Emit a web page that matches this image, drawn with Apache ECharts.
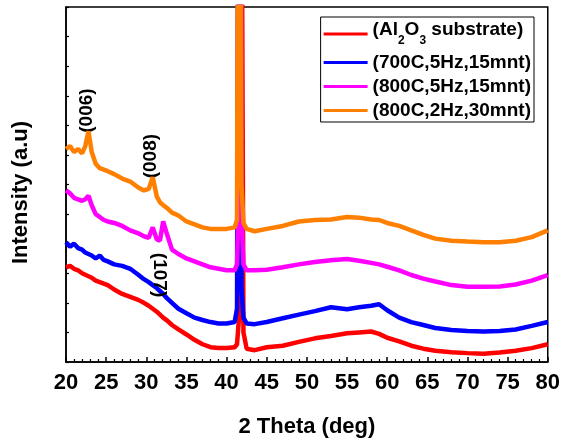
<!DOCTYPE html>
<html>
<head>
<meta charset="utf-8">
<script src="https://cdn.jsdelivr.net/npm/echarts@6/dist/echarts.min.js"></script>
<style>
  html, body { margin: 0; padding: 0; background: #fff; }
  #chart { width: 563px; height: 443px; }
</style>
</head>
<body>
<div id="chart"></div>
<script>
/* 2 theta values shared by all patterns */
let theta = [20, 20.5, 21, 21.5, 22, 22.4, 22.8, 23.2, 23.7, 24.2, 24.7, 25.2, 26, 27, 28, 29, 29.7, 30.3, 30.8, 31.3,
  31.7, 32.1, 32.6, 33.2, 34, 35, 36, 37, 38, 39, 40, 41, 41.3, 41.55, 41.7, 41.85, 42.1, 42.5, 43.5, 45,
  47, 49, 51, 53, 55, 56.5, 58, 59, 60, 61.5, 63, 64.5, 66, 68, 70, 72, 74, 76, 78, 80];

let names = ['Al2O3', '(700C,5Hz,15mnt)', '(800C,5Hz,15mnt)', '(800C,2Hz,30mnt)'];
let colors = ['#ff0000', '#0000ff', '#ff00ff', '#ff7f00'];

let substrate = [3.2, 3.25, 3.15, 3.1, 3.0, 2.95, 2.9, 2.85, 2.75, 2.7, 2.65, 2.6, 2.45, 2.3, 2.2, 2.1, 2.0, 1.9, 1.8, 1.7,
  1.6, 1.5, 1.4, 1.25, 1.1, 0.93, 0.75, 0.6, 0.5, 0.47, 0.47, 0.5, 0.6, 1.5, 30, 30, 1.0, 0.45, 0.4, 0.5,
  0.55, 0.68, 0.8, 0.88, 0.97, 1.0, 1.03, 0.95, 0.82, 0.7, 0.55, 0.45, 0.38, 0.33, 0.3, 0.28, 0.32, 0.38, 0.47, 0.6];

let s700_5_15 = [4.05, 3.9, 4.0, 3.85, 3.8, 3.7, 3.65, 3.6, 3.5, 3.6, 3.45, 3.4, 3.3, 3.25, 3.15, 2.95, 2.8, 2.7, 2.6, 2.5,
  2.4, 2.3, 2.15, 2.0, 1.8, 1.65, 1.5, 1.42, 1.35, 1.3, 1.3, 1.35, 1.8, 30, 30, 2.5, 1.5, 1.3, 1.28, 1.35,
  1.48, 1.6, 1.72, 1.85, 1.78, 1.85, 1.9, 1.95, 1.75, 1.5, 1.35, 1.25, 1.15, 1.08, 1.05, 1.03, 1.05, 1.1, 1.22, 1.35];

let s800_5_15 = [5.8, 5.7, 5.55, 5.5, 5.45, 5.5, 5.62, 5.3, 5.0, 4.9, 4.8, 4.75, 4.7, 4.6, 4.45, 4.35, 4.25, 4.2, 4.55, 4.15,
  4.1, 4.75, 4.3, 3.8, 3.65, 3.5, 3.4, 3.3, 3.2, 3.15, 3.1, 3.1, 3.3, 6, 30, 5, 3.3, 3.1, 3.1, 3.12,
  3.2, 3.3, 3.38, 3.44, 3.48, 3.42, 3.35, 3.3, 3.22, 3.1, 2.94, 2.82, 2.72, 2.6, 2.54, 2.54, 2.55, 2.62, 2.75, 2.94];

let s800_2_30 = [7.2, 7.3, 7.1, 7.2, 7.05, 7.3, 7.8, 7.1, 6.7, 6.55, 6.5, 6.45, 6.35, 6.2, 6.1, 5.9, 5.8, 5.85, 6.25, 5.6,
  5.4, 5.3, 5.2, 5.05, 4.95, 4.75, 4.65, 4.55, 4.5, 4.5, 4.5, 4.55, 4.8, 30, 30, 6, 4.7, 4.5, 4.42, 4.5,
  4.6, 4.75, 4.8, 4.82, 4.9, 4.88, 4.82, 4.8, 4.7, 4.6, 4.45, 4.3, 4.17, 4.1, 4.07, 4.05, 4.05, 4.1, 4.22, 4.45];

/* peak labels: [text, theta, intensity, rotation] */
let peakLabels = [
  ['(006)', 22.6, 8.5, 90],
  ['(008)', 30.5, 6.96, 90],
  ['(107)', 31.65, 2.94, -90]
];

let xTicks = [20, 25, 30, 35, 40, 45, 50, 55, 60, 65, 70, 75, 80];

let fontFam = 'Arial, "Liberation Sans", sans-serif';
let allData = [substrate, s700_5_15, s800_5_15, s800_2_30];

let series = [];
for (let i = 0; i < names.length; i++) {
  let pts = [];
  for (let j = 0; j < theta.length; j++) {
    pts.push([theta[j], allData[i][j]]);
  }
  series.push({
    name: names[i],
    type: 'line',
    data: pts,
    symbol: 'none',
    clip: true,
    lineStyle: { color: colors[i], width: 4.5 },
    itemStyle: { color: colors[i] },
    z: 2 + i
  });
}

/* annotations as label-only mark points */
let marks = peakLabels.map(function (p) {
  return {
    coord: [p[1], p[2]],
    symbol: 'circle',
    symbolSize: 0,
    label: {
      show: true,
      formatter: p[0],
      position: 'inside',
      rotate: p[3],
      color: '#000',
      fontSize: 19,
      fontWeight: 'bold',
      fontFamily: fontFam
    }
  };
});
series[3].markPoint = { silent: true, data: marks };

let myChart = echarts.init(document.getElementById('chart'));

let option = {
  animation: false,
  backgroundColor: '#fff',
  grid: {
    left: 66, right: 13, top: 7, bottom: 77,
    show: true, borderColor: '#000', borderWidth: 1.5
  },
  legend: {
    orient: 'vertical',
    right: 29,
    top: 17,
    padding: [3, 3, 2, 3],
    itemGap: 5,
    itemWidth: 44,
    itemHeight: 3,
    icon: 'rect',
    borderColor: '#000',
    borderWidth: 1,
    data: names,
    formatter: function (n) {
      if (n === 'Al2O3') return '{a|(Al}{s|2}{a|O}{s|3}{a| substrate)}';
      return n;
    },
    textStyle: {
      color: '#000',
      fontSize: 19,
      lineHeight: 19,
      fontWeight: 'bold',
      fontFamily: fontFam,
      rich: {
        a: { fontSize: 19, lineHeight: 19, fontWeight: 'bold', fontFamily: fontFam, color: '#000', padding: [0, 0, 9, 0] },
        s: { fontSize: 12, lineHeight: 12, fontWeight: 'bold', fontFamily: fontFam, color: '#000', padding: [14, 0, 0, 0] }
      }
    }
  },
  xAxis: {
    type: 'value',
    min: 20, max: 80, interval: 5,
    name: '2 Theta (deg)',
    nameLocation: 'middle',
    nameGap: 54,
    nameTextStyle: { fontSize: 22, fontWeight: 'bold', fontFamily: fontFam, color: '#000' },
    axisLine: { show: true, lineStyle: { color: '#000', width: 1.5 } },
    axisTick: { show: true, inside: true, length: 5, lineStyle: { color: '#000', width: 1.5 } },
    minorTick: { show: true, splitNumber: 5, length: 3, lineStyle: { color: '#000', width: 1.2 } },
    splitLine: { show: false },
    axisLabel: {
      margin: 10, fontSize: 22, fontWeight: 'bold', fontFamily: fontFam, color: '#000',
      formatter: function (v) { return xTicks.indexOf(v) >= 0 ? String(v) : ''; }
    }
  },
  yAxis: {
    type: 'value',
    min: 0, max: 12, interval: 1,
    name: 'Intensity (a.u)',
    nameLocation: 'middle',
    nameGap: 34,
    nameTextStyle: { fontSize: 22, fontWeight: 'bold', fontFamily: fontFam, color: '#000', padding: [0, 16, 0, 0] },
    axisLine: { show: true, lineStyle: { color: '#000', width: 1.5 } },
    axisTick: { show: true, inside: true, length: 3, lineStyle: { color: '#000', width: 1.2 } },
    axisLabel: { show: false },
    splitLine: { show: false }
  },
  series: series
};

myChart.setOption(option, true);
</script>
</body>
</html>
